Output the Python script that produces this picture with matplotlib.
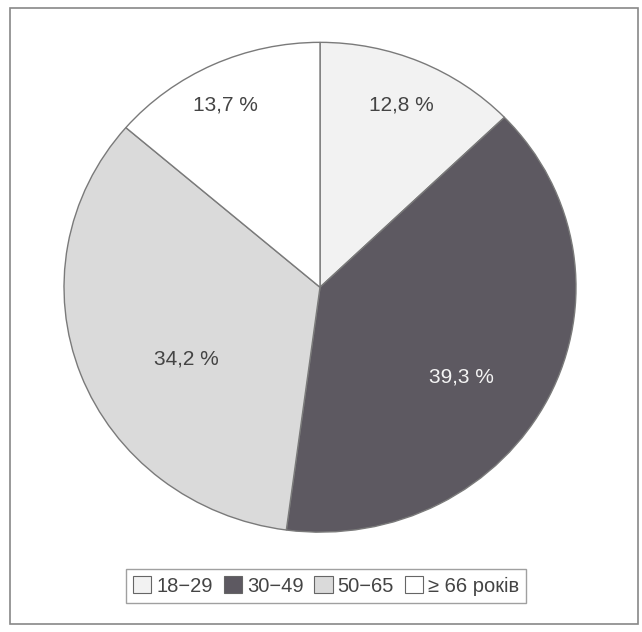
import matplotlib
matplotlib.use("Agg")
import matplotlib.pyplot as plt
from matplotlib.patches import Rectangle, Patch
import numpy as np

# age groups and shares (%)
groups = ["18−29", "30−49", "50−65", "≥ 66 років"]
shares = [12.8, 39.3, 34.2, 13.7]
labels = ["12,8 %", "39,3 %", "34,2 %", "13,7 %"]
colors = ["#f2f2f2", "#5d5961", "#dadada", "#ffffff"]
label_r = [0.81, 0.665, 0.60, 0.83]
label_shift = [0.0, -6.7, 8.5, 1.8]  # degrees off the wedge middle

plt.rcParams["font.family"] = ["Liberation Sans", "DejaVu Sans"]

fig = plt.figure(figsize=(6.42, 6.32), dpi=100)
fig.patches.append(Rectangle((0.0156, 0.0127), 0.978, 0.974, transform=fig.transFigure,
                             fill=False, edgecolor="#888888", linewidth=1.2))

ax = fig.add_axes([0.0997, 0.158, 0.7975, 0.775])
wedges, _ = ax.pie(shares, colors=colors, startangle=90, counterclock=False,
                   wedgeprops=dict(edgecolor="#7a7a7a", linewidth=1.0))
ax.set_aspect("auto")
ax.set_xlim(-1.0, 1.0)
ax.set_ylim(-1.0, 1.0)

for w, lab, r, s in zip(wedges, labels, label_r, label_shift):
    ang = np.deg2rad((w.theta1 + w.theta2) / 2 + s)
    col = "#f4f4f4" if w.get_facecolor()[0] < 0.5 else "#444444"
    ax.text(r * np.cos(ang), r * np.sin(ang), lab, ha="center", va="center",
            fontsize=15, color=col)

handles = [Patch(facecolor=c, edgecolor="#666666", linewidth=0.8) for c in colors]
leg = fig.legend(handles, groups, loc="center", bbox_to_anchor=(0.508, 0.073), ncol=4,
                 fontsize=14.5, frameon=True, fancybox=False, handlelength=0.9,
                 handleheight=0.9, handletextpad=0.25, columnspacing=0.55,
                 borderpad=0.35, borderaxespad=0, labelcolor="#444444")
leg.get_frame().set_edgecolor("#888888")
leg.get_frame().set_linewidth(1.0)

fig.savefig("out.png", dpi=100, facecolor="white")
